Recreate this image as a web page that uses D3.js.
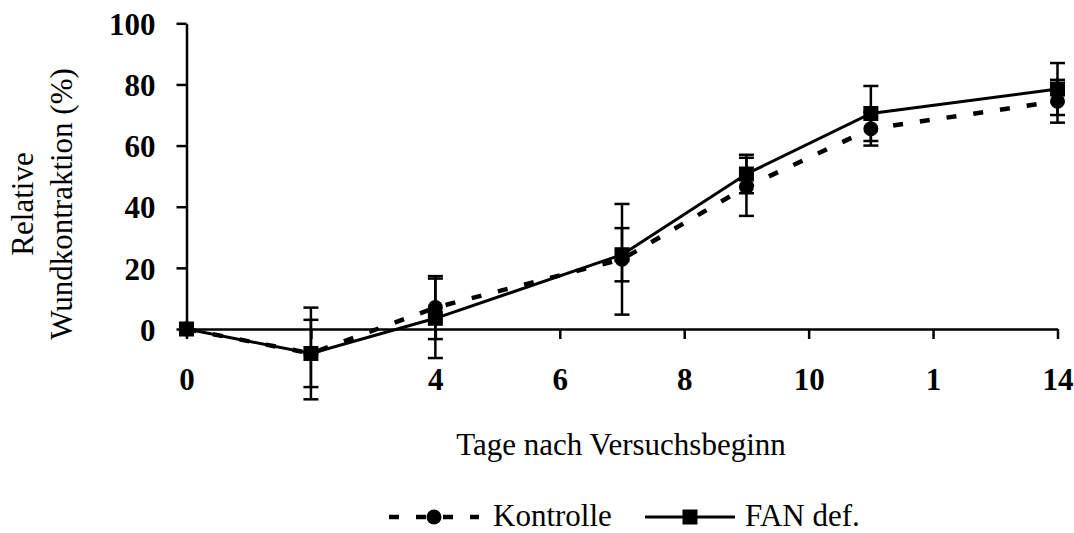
<!DOCTYPE html>
<html>
<head>
<meta charset="utf-8">
<script src="https://cdn.jsdelivr.net/npm/d3@7"></script>
<style>
  html, body { margin: 0; padding: 0; background: #fff; }
  svg { display: block; }
</style>
</head>
<body>
<svg id="chart" width="1074" height="533"></svg>
<script>
// Days after start of the experiment
const days = [0, 2, 4, 7, 9, 11, 14];

// Relative wound contraction (%) and error bar half-widths
const kontrolle    = [0, -8, 7, 22.8, 46.5, 65.5, 74.5];
const kontrolleErr = [0, 15, 10.3, 18.1, 9.5, 5.5, 7];
const fanDef       = [0, -8, 3.5, 24.3, 50.7, 70.5, 78.5];
const fanDefErr    = [0, 11, 13, 8.7, 6.3, 9, 8.5];

// Axis ticks
const xTicks = [0, 2, 4, 6, 8, 10, 12, 14];
const xTickLabels = ["0", "", "4", "6", "8", "10", "1", "14"];
const yTicks = [0, 20, 40, 60, 80, 100];

const svg = d3.select("#chart");
const FONT = 31;
const SERIF = '"Liberation Serif", "Times New Roman", serif';

function styleText(sel, bold) {
  sel.attr("font-family", SERIF)
    .style("font-family", SERIF)
    .style("font-size", FONT + "px")
    .style("font-weight", bold ? "bold" : "normal")
    .attr("fill", "#000");
  return sel;
}

const x = d3.scaleLinear().domain([0, 14]).range([186.5, 1057.5]);
const y = d3.scaleLinear().domain([0, 100]).range([329, 23.3]);

// Y axis
const yAxis = svg.append("g").attr("transform", `translate(${x(0)},0)`)
  .call(d3.axisLeft(y).tickValues(yTicks).tickSize(10).tickPadding(21).tickSizeOuter(0));
yAxis.attr("font-family", SERIF);
yAxis.select(".domain").attr("stroke", "#000").attr("stroke-width", 2.5);
yAxis.selectAll(".tick line").attr("stroke", "#000").attr("stroke-width", 2.5);
styleText(yAxis.selectAll(".tick text"), true).attr("dy", "0.36em");

// X axis crosses at 0; labels sit below the plot
const xAxis = svg.append("g").attr("transform", `translate(0,${y(0)})`)
  .call(d3.axisBottom(x).tickValues(xTicks).tickSize(10).tickSizeOuter(0)
    .tickFormat((d, i) => xTickLabels[i]));
xAxis.attr("font-family", SERIF);
xAxis.select(".domain").attr("stroke", "#000").attr("stroke-width", 2.5);
xAxis.selectAll(".tick line").attr("stroke", "#000").attr("stroke-width", 2.5);
styleText(xAxis.selectAll(".tick text"), true).attr("y", 390 - y(0)).attr("dy", 0);

// Axis titles
styleText(svg.append("text")
  .attr("transform", "rotate(-90)")
  .attr("x", -204).attr("y", 33)
  .attr("text-anchor", "middle"), false)
  .text("Relative");
styleText(svg.append("text")
  .attr("transform", "rotate(-90)")
  .attr("x", -204).attr("y", 72)
  .attr("text-anchor", "middle"), false)
  .text("Wundkontraktion (%)");
styleText(svg.append("text")
  .attr("x", 621).attr("y", 455)
  .attr("text-anchor", "middle"), false)
  .text("Tage nach Versuchsbeginn");

const series = [
  { name: "Kontrolle", values: kontrolle, err: kontrolleErr, dash: "10,17", width: 4.5, marker: "circle" },
  { name: "FAN def.", values: fanDef, err: fanDefErr, dash: null, width: 3, marker: "square" }
];

const CAP = 15;

function drawMarker(g, type, cx, cy) {
  if (type === "circle") {
    g.append("circle").attr("cx", cx).attr("cy", cy).attr("r", 7.5).attr("fill", "#000");
  } else {
    g.append("rect").attr("x", cx - 7.5).attr("y", cy - 7.5)
      .attr("width", 15).attr("height", 15).attr("fill", "#000");
  }
}

series.forEach(s => {
  const g = svg.append("g");
  const pts = days.map((d, i) => ({ d, v: s.values[i], e: s.err[i] }));

  // error bars
  pts.filter(p => p.e > 0).forEach(p => {
    const cx = x(p.d);
    g.append("line").attr("x1", cx).attr("x2", cx)
      .attr("y1", y(p.v + p.e)).attr("y2", y(p.v - p.e))
      .attr("stroke", "#000").attr("stroke-width", 2.5);
    [p.v + p.e, p.v - p.e].forEach(v => {
      g.append("line").attr("x1", cx - CAP / 2).attr("x2", cx + CAP / 2)
        .attr("y1", y(v)).attr("y2", y(v))
        .attr("stroke", "#000").attr("stroke-width", 2.5);
    });
  });

  // line
  const line = d3.line().x(p => x(p.d)).y(p => y(p.v));
  g.append("path").datum(pts).attr("d", line)
    .attr("fill", "none").attr("stroke", "#000")
    .attr("stroke-width", s.width)
    .attr("stroke-dasharray", s.dash);

  // markers
  pts.forEach(p => drawMarker(g, s.marker, x(p.d), y(p.v)));
});

// Legend
const legY = 517;
const legend = [
  { s: series[0], x0: 389, x1: 479, tx: 493 },
  { s: series[1], x0: 645, x1: 735, tx: 745 }
];
legend.forEach(l => {
  const g = svg.append("g");
  g.append("line").attr("x1", l.x0).attr("x2", l.x1).attr("y1", legY).attr("y2", legY)
    .attr("stroke", "#000").attr("stroke-width", l.s.width)
    .attr("stroke-dasharray", l.s.dash);
  drawMarker(g, l.s.marker, (l.x0 + l.x1) / 2, legY);
  styleText(g.append("text").attr("x", l.tx).attr("y", legY + 9), false)
    .text(l.s.name);
});
</script>
</body>
</html>
